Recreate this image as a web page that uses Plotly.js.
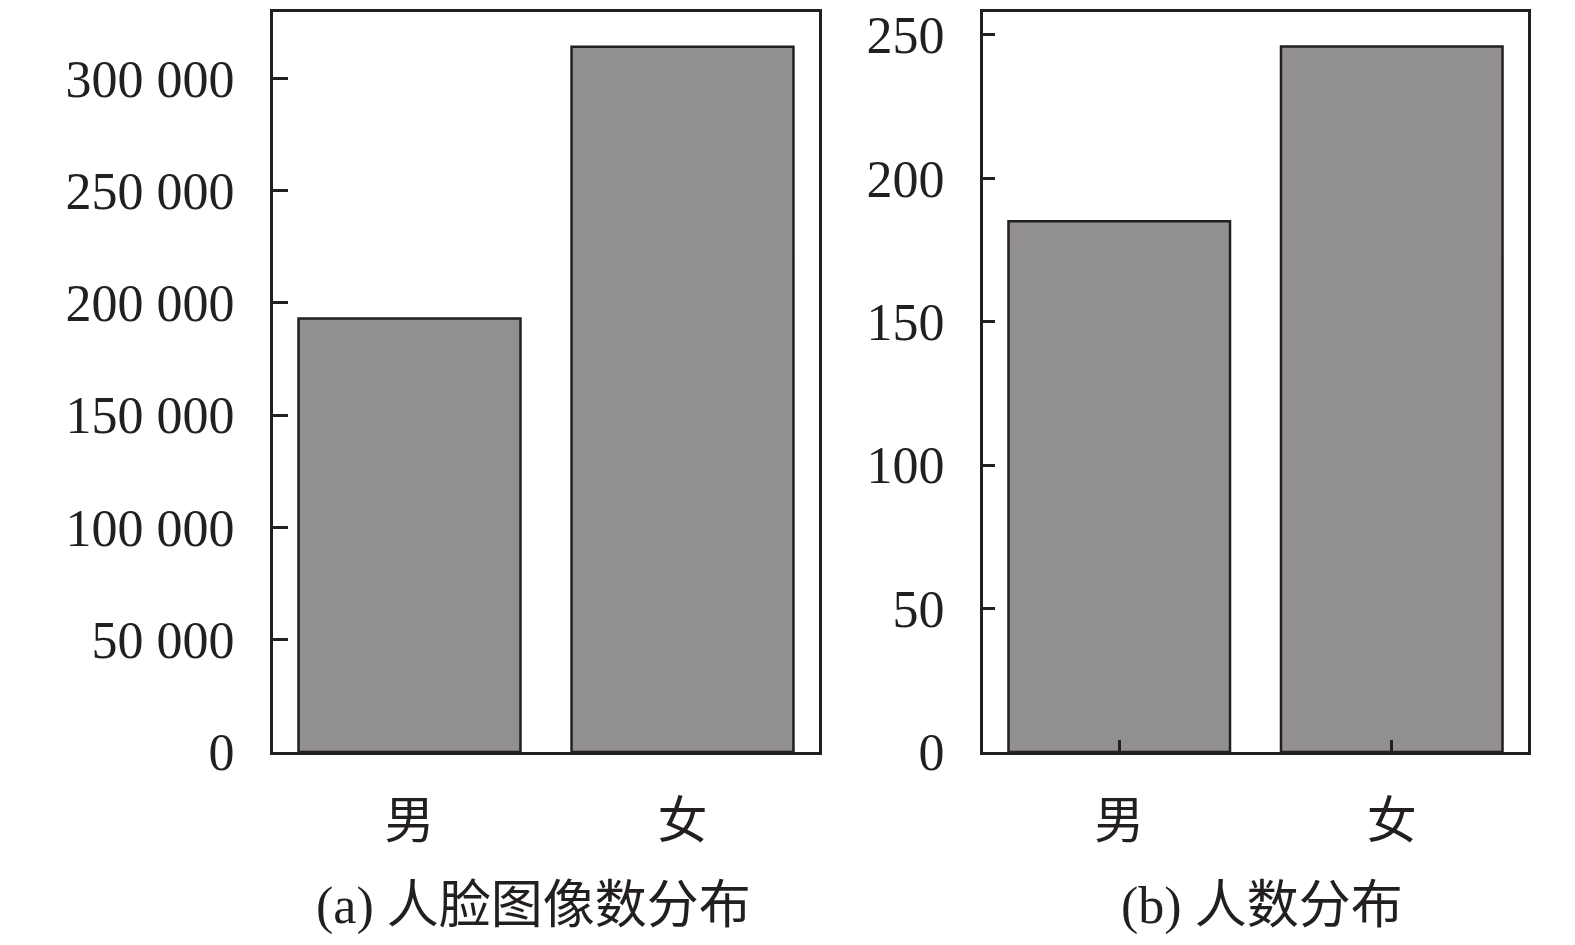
<!DOCTYPE html>
<html>
<head>
<meta charset="utf-8">
<script src="https://cdn.plot.ly/plotly-3.0.1.min.js"></script>
<style>html,body{margin:0;padding:0;background:#fff;}#chart{width:1575px;height:945px;}</style>
</head>
<body>
<div id="chart"></div>
<script>
const categories = ['男', '女'];
const faceImageCounts = [193000, 314000];
const personCounts = [185, 246];
const leftTickVals = [0, 50000, 100000, 150000, 200000, 250000, 300000];
const rightTickVals = [0, 50, 100, 150, 200, 250];
const titleA = '(a) 人脸图像数分布';
const titleB = '(b) 人数分布';

const ink = '#231f20';
const fill = '#918f90';
const numFont = {family: 'Liberation Serif, Times New Roman, serif', size: 52, color: ink};
const cjkFont = {family: 'Noto Sans CJK SC, sans-serif', size: 50, color: ink};
const titleFont = {family: 'Liberation Serif, Noto Sans CJK SC, serif', size: 52, color: ink};

const H = 945, W = 1575;
const yDom = [1 - 752 / H, 1 - 11.7 / H];

const traces = [
  {type: 'bar', x: categories, y: faceImageCounts, xaxis: 'x', yaxis: 'y',
   marker: {color: fill, line: {color: ink, width: 2.5}}, hoverinfo: 'none'},
  {type: 'bar', x: categories, y: personCounts, xaxis: 'x2', yaxis: 'y2',
   marker: {color: fill, line: {color: ink, width: 2.5}}, hoverinfo: 'none'}
];

const axisBase = {showline: true, linecolor: ink, linewidth: 3, mirror: true,
  showgrid: false, zeroline: false, automargin: false, fixedrange: true};

const layout = {
  width: W, height: H,
  margin: {l: 0, r: 0, t: 0, b: 0},
  paper_bgcolor: '#fff', plot_bgcolor: '#fff',
  showlegend: false,
  bargap: 0.187,
  separators: '. ',
  xaxis: Object.assign({}, axisBase, {domain: [273 / W, 819 / W], anchor: 'y',
    ticks: '', tickfont: cjkFont, ticklabelstandoff: 23}),
  yaxis: Object.assign({}, axisBase, {domain: yDom, anchor: 'x', range: [0, 329660],
    tickvals: leftTickVals, tickformat: ',d', ticks: 'inside', ticklen: 15, tickwidth: 3, tickcolor: ink,
    tickfont: numFont, ticklabelstandoff: 25}),
  xaxis2: Object.assign({}, axisBase, {domain: [983 / W, 1528 / W], anchor: 'y2',
    ticks: 'inside', ticklen: 12, tickwidth: 3, tickcolor: ink, tickfont: cjkFont, ticklabelstandoff: 23}),
  yaxis2: Object.assign({}, axisBase, {domain: yDom, anchor: 'x2', range: [0, 258.1],
    tickvals: rightTickVals, ticks: 'inside', ticklen: 12, tickwidth: 3, tickcolor: ink,
    tickfont: numFont, ticklabelstandoff: 25}),
  annotations: [
    {text: titleA, xref: 'paper', yref: 'paper', x: 533 / W, y: 1 - 906 / H,
     xanchor: 'center', yanchor: 'middle', showarrow: false, font: titleFont},
    {text: titleB, xref: 'paper', yref: 'paper', x: 1262 / W, y: 1 - 906 / H,
     xanchor: 'center', yanchor: 'middle', showarrow: false, font: titleFont}
  ]
};

Plotly.newPlot('chart', traces, layout, {staticPlot: true, displayModeBar: false});
</script>
</body>
</html>
